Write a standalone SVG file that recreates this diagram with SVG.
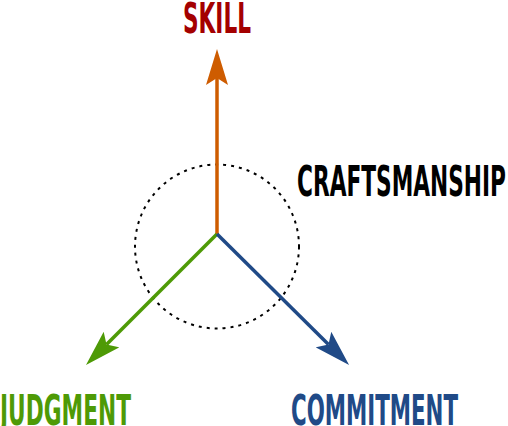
<svg xmlns="http://www.w3.org/2000/svg" width="508" height="426" viewBox="0 0 508 426">
<style>
.lbl{font-family:"Liberation Sans Narrow","DejaVu Sans Condensed","Liberation Sans",sans-serif;font-weight:bold;font-size:42px;}
.ax{fill:none;stroke-width:3.5;}
</style>
<defs>
<marker id="hO" markerUnits="userSpaceOnUse" viewBox="0 0 36 22" markerWidth="36" markerHeight="22" refX="7" refY="11" orient="auto"><path d="M36,11 L0,0 L7,11 L0,22 Z" fill="#ce5c00"/></marker>
<marker id="hG" markerUnits="userSpaceOnUse" viewBox="0 0 36 22" markerWidth="36" markerHeight="22" refX="7" refY="11" orient="auto"><path d="M36,11 L0,0 L7,11 L0,22 Z" fill="#4e9a06"/></marker>
<marker id="hB" markerUnits="userSpaceOnUse" viewBox="0 0 36 22" markerWidth="36" markerHeight="22" refX="7" refY="11" orient="auto"><path d="M36,11 L0,0 L7,11 L0,22 Z" fill="#204a87"/></marker>
</defs>
<g id="craftsmanship">
<circle cx="217" cy="246.5" r="82" fill="none" stroke="#000" stroke-width="2" stroke-dasharray="3,5"/>
<text class="lbl" x="297" y="196" font-size="47" textLength="209" lengthAdjust="spacingAndGlyphs" fill="#000">CRAFTSMANSHIP</text>
</g>
<g id="connectors">
<line class="ax" x1="217" y1="234" x2="217" y2="78" stroke="#ce5c00" marker-end="url(#hO)"/>
<line class="ax" x1="217" y1="234" x2="106.5" y2="344.5" stroke="#4e9a06" marker-end="url(#hG)"/>
<line class="ax" x1="217" y1="234" x2="328.5" y2="344.5" stroke="#204a87" marker-end="url(#hB)"/>
</g>
<g id="skill">
<text class="lbl" x="183" y="33" textLength="68" lengthAdjust="spacingAndGlyphs" fill="#a40000">SKILL</text>
</g>
<g id="judgment">
<text class="lbl" x="0" y="425" textLength="131" lengthAdjust="spacingAndGlyphs" fill="#4e9a06">JUDGMENT</text>
</g>
<g id="commitment">
<text class="lbl" x="291" y="425" textLength="167" lengthAdjust="spacingAndGlyphs" fill="#204a87">COMMITMENT</text>
</g>
</svg>
